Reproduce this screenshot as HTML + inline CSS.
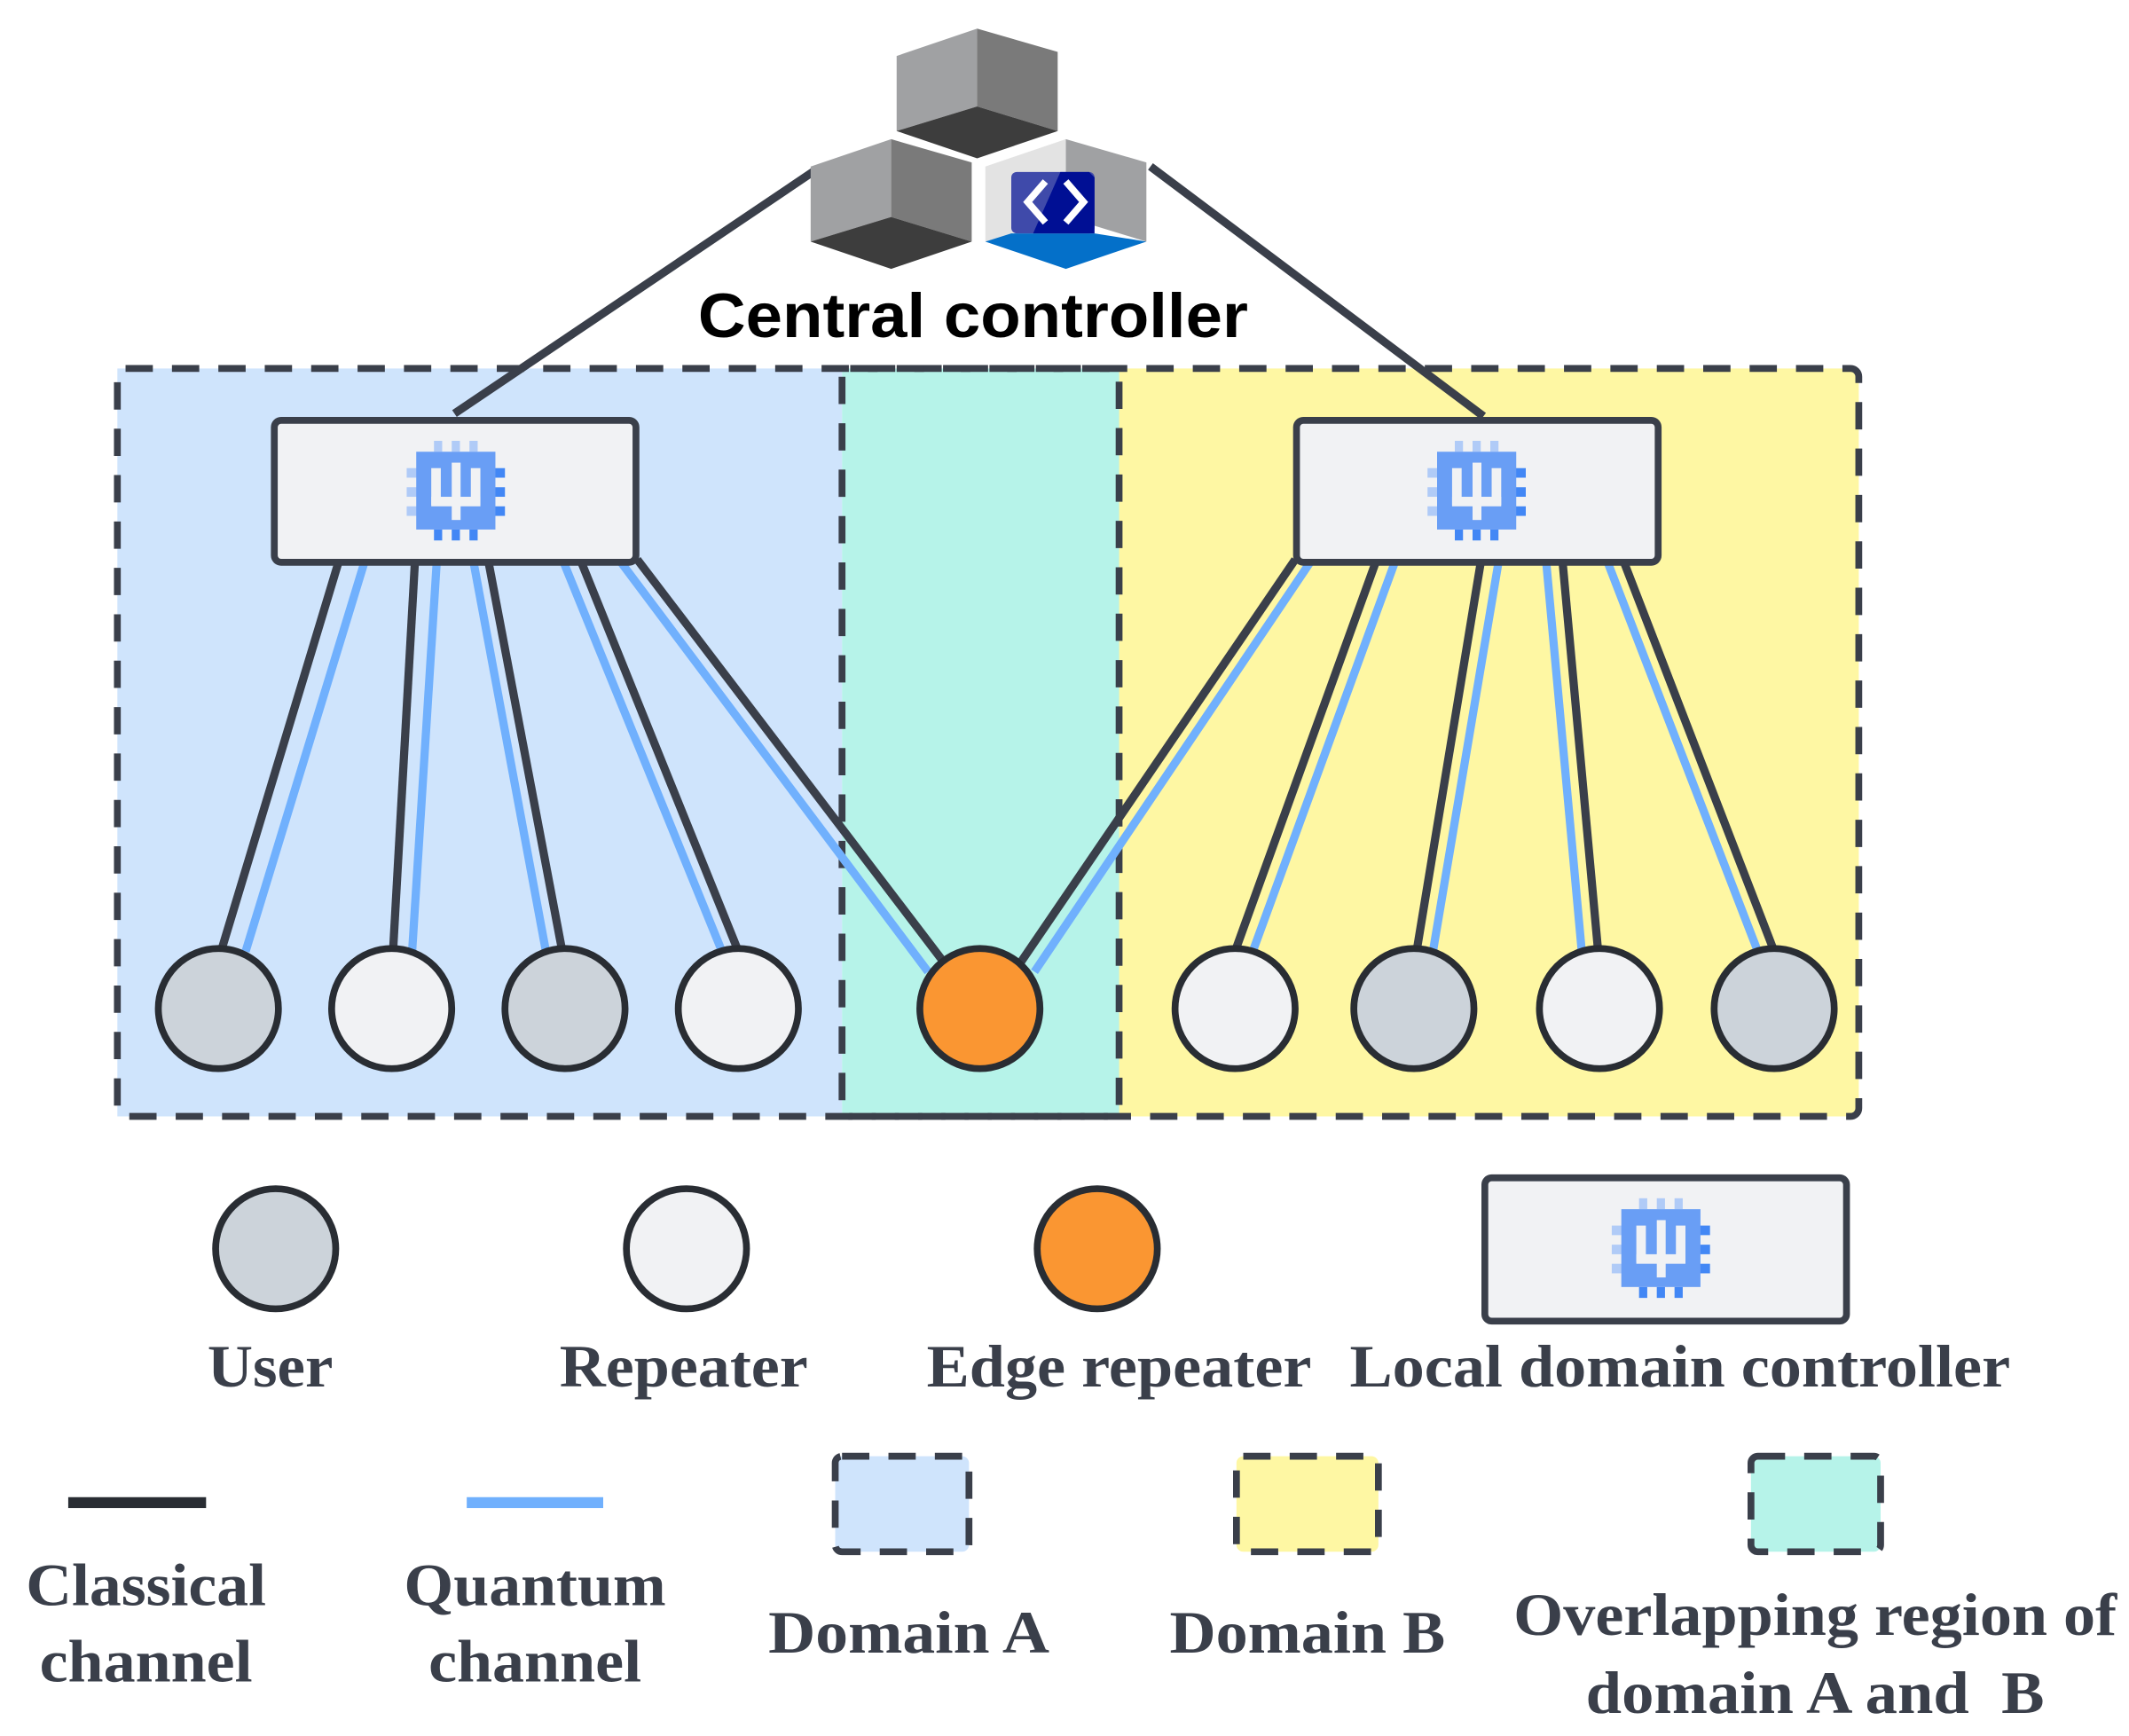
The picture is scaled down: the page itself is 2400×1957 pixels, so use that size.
<!DOCTYPE html>
<html><head><meta charset="utf-8"><style>
html,body{margin:0;padding:0;background:#fff;}
svg{display:block;}
.lbl{font-family:"Liberation Serif",serif;font-weight:bold;fill:#3a3f4a;font-size:44px;}
</style></head><body>
<svg width="2400" height="1957" viewBox="0 0 1560 1272" preserveAspectRatio="none" xmlns="http://www.w3.org/2000/svg">
<defs>
<g id="chip">
  <rect x="-16" y="-37" width="6" height="8" fill="#b0cbf7"/>
  <rect x="-3" y="-37" width="6" height="8" fill="#b0cbf7"/>
  <rect x="10" y="-37" width="6" height="8" fill="#b0cbf7"/>
  <rect x="-16" y="28" width="6" height="8" fill="#4287f5"/>
  <rect x="-3" y="28" width="6" height="8" fill="#4287f5"/>
  <rect x="10" y="28" width="6" height="8" fill="#4287f5"/>
  <rect x="-36" y="-17" width="8" height="7" fill="#b0cbf7"/>
  <rect x="-36" y="-3" width="8" height="7" fill="#b0cbf7"/>
  <rect x="-36" y="11" width="8" height="7" fill="#b0cbf7"/>
  <rect x="28" y="-17" width="8" height="7" fill="#4287f5"/>
  <rect x="28" y="-3" width="8" height="7" fill="#4287f5"/>
  <rect x="28" y="11" width="8" height="7" fill="#4287f5"/>
  <rect x="-29" y="-29" width="58" height="57" fill="#699ef5"/>
  <rect x="-18" y="-17" width="7" height="27" fill="#f1f2f4"/>
  <rect x="11" y="-17" width="7" height="27" fill="#f1f2f4"/>
  <rect x="-3" y="-21" width="6.5" height="42" fill="#f1f2f4"/>
  <rect x="-18" y="4" width="36" height="7" fill="#f1f2f4"/>
</g>
</defs>

<!-- domains -->
<rect x="86" y="270" width="531" height="548" fill="#cfe4fc"/>
<rect x="820" y="270" width="542" height="548" fill="#fef7a3"/>
<rect x="617" y="270" width="203" height="548" fill="#b6f3e9"/>
<rect x="86" y="270" width="1276" height="548" rx="6" fill="none" stroke="#3a3f4a" stroke-width="5" stroke-dasharray="20 14"/>
<rect x="617" y="270" width="203" height="548" rx="6" fill="none" stroke="#3a3f4a" stroke-width="5" stroke-dasharray="20 14"/>

<!-- lines to central -->
<line x1="333" y1="303" x2="597" y2="125" stroke="#3a3f4a" stroke-width="6"/>
<line x1="1087" y1="305" x2="843" y2="122" stroke="#3a3f4a" stroke-width="6"/>

<!-- channels -->
<g stroke-width="6" stroke-linecap="butt">
<line x1="267" y1="412" x2="180" y2="697" stroke="#70b0fd"/>
<line x1="248" y1="412" x2="162" y2="697" stroke="#3a3f4a"/>
<line x1="320" y1="412" x2="302" y2="697" stroke="#70b0fd"/>
<line x1="304" y1="412" x2="288" y2="697" stroke="#3a3f4a"/>
<line x1="347" y1="412" x2="400" y2="697" stroke="#70b0fd"/>
<line x1="358" y1="412" x2="412" y2="697" stroke="#3a3f4a"/>
<line x1="413" y1="412" x2="529" y2="697" stroke="#70b0fd"/>
<line x1="426" y1="412" x2="541" y2="697" stroke="#3a3f4a"/>
<line x1="455" y1="412" x2="680" y2="712" stroke="#70b0fd"/>
<line x1="467" y1="410" x2="690" y2="703" stroke="#3a3f4a"/>
<line x1="960" y1="412" x2="758" y2="712" stroke="#70b0fd"/>
<line x1="949" y1="410" x2="748" y2="705" stroke="#3a3f4a"/>
<line x1="1022" y1="412" x2="918" y2="697" stroke="#70b0fd"/>
<line x1="1008" y1="412" x2="905" y2="697" stroke="#3a3f4a"/>
<line x1="1098" y1="412" x2="1050" y2="697" stroke="#70b0fd"/>
<line x1="1085" y1="412" x2="1038" y2="697" stroke="#3a3f4a"/>
<line x1="1133" y1="412" x2="1159" y2="697" stroke="#70b0fd"/>
<line x1="1145" y1="412" x2="1171" y2="697" stroke="#3a3f4a"/>
<line x1="1178" y1="412" x2="1288" y2="697" stroke="#70b0fd"/>
<line x1="1190" y1="412" x2="1300" y2="697" stroke="#3a3f4a"/>
</g>

<!-- LDCs -->
<rect x="201" y="308" width="265" height="104" rx="5" fill="#f1f2f4" stroke="#3a3f4a" stroke-width="5"/>
<use href="#chip" x="334" y="360"/>
<rect x="950" y="308" width="265" height="104" rx="5" fill="#f1f2f4" stroke="#3a3f4a" stroke-width="5"/>
<use href="#chip" x="1082" y="360"/>

<!-- nodes -->
<g stroke="#292d33" stroke-width="5">
<circle cx="160" cy="739" r="44" fill="#ccd3da"/>
<circle cx="287" cy="739" r="44" fill="#f1f2f4"/>
<circle cx="414" cy="739" r="44" fill="#ccd3da"/>
<circle cx="541" cy="739" r="44" fill="#f1f2f4"/>
<circle cx="718" cy="739" r="44" fill="#fa9632"/>
<circle cx="905" cy="739" r="44" fill="#f1f2f4"/>
<circle cx="1036" cy="739" r="44" fill="#ccd3da"/>
<circle cx="1172" cy="739" r="44" fill="#f1f2f4"/>
<circle cx="1300" cy="739" r="44" fill="#ccd3da"/>
</g>

<!-- central controller icon -->
<g transform="translate(716,21)">
  <polygon points="-59,20 0,0 0,57 -59,75" fill="#a0a1a3"/>
  <polygon points="0,0 59,17 59,75 0,57" fill="#7a7a7a"/>
  <polygon points="-59,75 0,57 59,75 0,95" fill="#3d3d3d"/>
</g>
<g transform="translate(653,102)">
  <polygon points="-59,20 0,0 0,57 -59,75" fill="#a0a1a3"/>
  <polygon points="0,0 59,17 59,75 0,57" fill="#7a7a7a"/>
  <polygon points="-59,75 0,57 59,75 0,95" fill="#3d3d3d"/>
</g>
<g transform="translate(781,102)">
  <polygon points="-59,20 0,0 0,57 -59,75" fill="#e3e3e3"/>
  <polygon points="0,0 59,17 59,75 0,57" fill="#a0a1a3"/>
  <polygon points="-59,75 -40,69 21,69 59,75 0,95" fill="#0470c9"/>
  <rect x="-40" y="24" width="61" height="45" fill="#3f4aaa" rx="4"/>
  <polygon points="-4,24 17,24 21,28 21,69 -24,69" fill="#000f94"/>
  <polyline points="-15,31 -28,46 -15,61" fill="none" stroke="#fff" stroke-width="5"/>
  <polyline points="0,31 13,46 0,61" fill="none" stroke="#fff" stroke-width="5"/>
</g>
<text x="713" y="247" text-anchor="middle" font-family="Liberation Sans, sans-serif" font-weight="bold" font-size="46" fill="#000" textLength="403" lengthAdjust="spacingAndGlyphs">Central controller</text>

<!-- legend nodes -->
<g stroke="#292d33" stroke-width="5">
<circle cx="202" cy="915" r="44" fill="#ccd3da"/>
<circle cx="503" cy="915" r="44" fill="#f1f2f4"/>
<circle cx="804" cy="915" r="44" fill="#fa9632"/>
</g>
<rect x="1088" y="863" width="265" height="105" rx="5" fill="#f1f2f4" stroke="#3a3f4a" stroke-width="5"/>
<use href="#chip" x="1217" y="915"/>

<text class="lbl" x="198" y="1016" text-anchor="middle" textLength="92" lengthAdjust="spacingAndGlyphs">User</text>
<text class="lbl" x="501" y="1016" text-anchor="middle" textLength="182" lengthAdjust="spacingAndGlyphs">Repeater</text>
<text class="lbl" x="820" y="1016" text-anchor="middle" textLength="282" lengthAdjust="spacingAndGlyphs">Edge repeater</text>
<text class="lbl" x="1231" y="1016" text-anchor="middle" textLength="484" lengthAdjust="spacingAndGlyphs">Local domain controller</text>

<!-- line legend -->
<rect x="50" y="1097" width="101" height="8" fill="#292d33"/>
<rect x="342" y="1097" width="100" height="8" fill="#70b0fd"/>
<text class="lbl" x="107" y="1176" text-anchor="middle" textLength="176" lengthAdjust="spacingAndGlyphs">Classical</text>
<text class="lbl" x="107" y="1232" text-anchor="middle" textLength="156" lengthAdjust="spacingAndGlyphs">channel</text>
<text class="lbl" x="392" y="1176" text-anchor="middle" textLength="192" lengthAdjust="spacingAndGlyphs">Quantum</text>
<text class="lbl" x="392" y="1232" text-anchor="middle" textLength="156" lengthAdjust="spacingAndGlyphs">channel</text>

<!-- region legend -->
<rect x="612" y="1067" width="98" height="70" rx="5" fill="#cfe4fc" stroke="#3a3f4a" stroke-width="5" stroke-dasharray="20 14"/>
<rect x="906" y="1067" width="104" height="70" rx="5" fill="#fef7a3" stroke="#3a3f4a" stroke-width="5" stroke-dasharray="20 14"/>
<rect x="1283" y="1067" width="95" height="70" rx="5" fill="#b6f3e9" stroke="#3a3f4a" stroke-width="5" stroke-dasharray="20 14"/>
<text class="lbl" x="666" y="1211" text-anchor="middle" textLength="206" lengthAdjust="spacingAndGlyphs">Domain A</text>
<text class="lbl" x="958" y="1211" text-anchor="middle" textLength="202" lengthAdjust="spacingAndGlyphs">Domain B</text>
<text class="lbl" x="1330" y="1198" text-anchor="middle" textLength="442" lengthAdjust="spacingAndGlyphs">Overlapping region of</text>
<text class="lbl" x="1330" y="1255" text-anchor="middle" textLength="336" lengthAdjust="spacingAndGlyphs" xml:space="preserve">domain A and&#160; B</text>
</svg>
</body></html>
